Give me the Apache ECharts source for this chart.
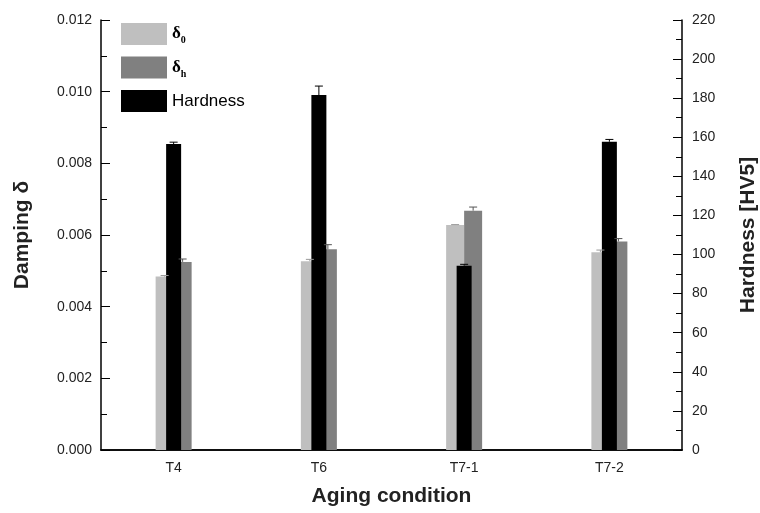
<!DOCTYPE html>
<html>
<head>
<meta charset="utf-8">
<script src="https://cdn.jsdelivr.net/npm/echarts@6/dist/echarts.min.js"></script>
<style>
  html, body { margin: 0; padding: 0; background: #fff; }
  #chart { width: 760px; height: 513px; }
</style>
</head>
<body>
<div id="chart"></div>
<script>
  // data
  const conditions = ['T4', 'T6', 'T7-1', 'T7-2'];
  const delta0 = [0.00484, 0.00527, 0.00628, 0.00552];
  const delta0Err = [0.00003, 0.00005, 0.00001, 0.00006];
  const deltaH = [0.00525, 0.0056, 0.00668, 0.00582];
  const deltaHErr = [0.00008, 0.00013, 0.0001, 0.00008];
  const hardness = [156.5, 181.6, 94.3, 157.7];
  const hardnessErr = [1, 4.6, 0.7, 1.2];
  const dampTicks = [0, 0.002, 0.004, 0.006, 0.008, 0.010, 0.012];
  const hardTicks = [0, 20, 40, 60, 80, 100, 120, 140, 160, 180, 200, 220];

  const BAR_W = 18;
  const font = '"Liberation Sans", Arial, sans-serif';

  // error bars, plus side only (like origin draws them)
  function errSeries(name, vals, errs, offset, xi, yi, color) {
    return {
      name: name + ' err',
      type: 'custom',
      xAxisIndex: xi,
      yAxisIndex: yi,
      z: 5,
      silent: true,
      data: vals.map((v, i) => [i, v, v + errs[i]]),
      renderItem: function (params, api) {
        const base = api.coord([api.value(0), api.value(1)]);
        const top = api.coord([api.value(0), api.value(2)]);
        const x = base[0] + offset;
        return {
          type: 'group',
          children: [
            { type: 'line', shape: { x1: x, y1: base[1], x2: x, y2: top[1] }, style: { stroke: color, lineWidth: 1 } },
            { type: 'line', shape: { x1: x - 4, y1: top[1], x2: x + 4, y2: top[1] }, style: { stroke: color, lineWidth: 1 } }
          ]
        };
      }
    };
  }

  const myEcharts = echarts.init(document.getElementById('chart'));
  const options = {
    backgroundColor: '#fff',
    animation: false,
    grid: { left: 101, right: 78, top: 20, bottom: 63, outerBoundsMode: 'none', containLabel: false },
    legend: {
      orient: 'vertical',
      left: 121,
      top: 23,
      padding: 0,
      icon: 'rect',
      itemWidth: 46,
      itemHeight: 22,
      itemGap: 11,
      data: ['δ0', 'δh', 'Hardness'],
      formatter: function (name) {
        if (name === 'δ0') return '{d|δ}{s|0}';
        if (name === 'δh') return '{d|δ}{s|h}';
        return '{h|' + name + '}';
      },
      textStyle: {
        color: '#000',
        rich: {
          d: { fontFamily: '"Liberation Serif", serif', fontWeight: 'bold', fontSize: 17, color: '#000', verticalAlign: 'bottom' },
          s: { fontFamily: '"Liberation Serif", serif', fontWeight: 'bold', fontSize: 10, color: '#000', verticalAlign: 'bottom', padding: [0, 0, -3, 0] },
          h: { fontFamily: font, fontSize: 17, color: '#000' }
        }
      }
    },
    xAxis: [{
      type: 'category',
      data: conditions,
      name: 'Aging condition',
      nameLocation: 'middle',
      nameGap: 36,
      nameTextStyle: { fontFamily: font, fontWeight: 'bold', fontSize: 21, color: '#222' },
      axisLine: { lineStyle: { color: '#000', width: 1.5 } },
      axisTick: { show: false },
      axisLabel: { fontFamily: font, fontSize: 14, color: '#222', margin: 11 }
    }, {
      type: 'category',
      data: conditions,
      position: 'top',
      axisLine: { lineStyle: { color: '#000', width: 1.5 } },
      axisTick: { show: false },
      axisLabel: { show: false }
    }],
    yAxis: [{
      type: 'value',
      min: 0,
      max: 0.012,
      interval: 0.002,
      name: 'Damping δ',
      nameLocation: 'middle',
      nameGap: 68,
      nameTextStyle: { fontFamily: font, fontWeight: 'bold', fontSize: 21, color: '#222' },
      axisLine: { show: true, lineStyle: { color: '#000', width: 1.5 } },
      axisTick: { show: true, inside: true, length: 9, lineStyle: { color: '#000' } },
      minorTick: { show: true, splitNumber: 2, length: 6, lineStyle: { color: '#000' } },
      splitLine: { show: false },
      axisLabel: {
        fontFamily: font, fontSize: 14, color: '#222', margin: 9,
        formatter: v => dampTicks.includes(+v.toFixed(3)) ? v.toFixed(3) : ''
      }
    }, {
      type: 'value',
      min: 0,
      max: 220,
      interval: 20,
      name: 'Hardness [HV5]',
      nameLocation: 'middle',
      nameGap: 56,
      nameTextStyle: { fontFamily: font, fontWeight: 'bold', fontSize: 21, color: '#222' },
      axisLine: { show: true, lineStyle: { color: '#000', width: 1.5 } },
      axisTick: { show: true, inside: true, length: 9, lineStyle: { color: '#000' } },
      minorTick: { show: true, splitNumber: 2, length: 6, lineStyle: { color: '#000' } },
      splitLine: { show: false },
      axisLabel: {
        fontFamily: font, fontSize: 14, color: '#222', margin: 10,
        formatter: v => hardTicks.includes(v) ? String(v) : ''
      }
    }],
    series: [{
      name: 'δ0',
      type: 'bar',
      xAxisIndex: 0,
      yAxisIndex: 0,
      barWidth: BAR_W,
      barGap: '0%',
      z: 2,
      itemStyle: { color: '#bfbfbf' },
      data: delta0
    }, {
      name: 'δh',
      type: 'bar',
      xAxisIndex: 0,
      yAxisIndex: 0,
      barWidth: BAR_W,
      barGap: '0%',
      z: 2,
      itemStyle: { color: '#808080' },
      data: deltaH
    }, {
      name: 'Hardness',
      type: 'bar',
      xAxisIndex: 1,
      yAxisIndex: 1,
      barWidth: 15,
      z: 3,
      itemStyle: { color: '#000' },
      data: hardness
    },
      errSeries('δ0', delta0, delta0Err, -BAR_W / 2, 0, 0, '#999'),
      errSeries('δh', deltaH, deltaHErr, BAR_W / 2, 0, 0, '#555'),
      errSeries('Hardness', hardness, hardnessErr, 0, 1, 1, '#000')
    ]
  };
  myEcharts.setOption(options, true);
</script>
</body>
</html>
